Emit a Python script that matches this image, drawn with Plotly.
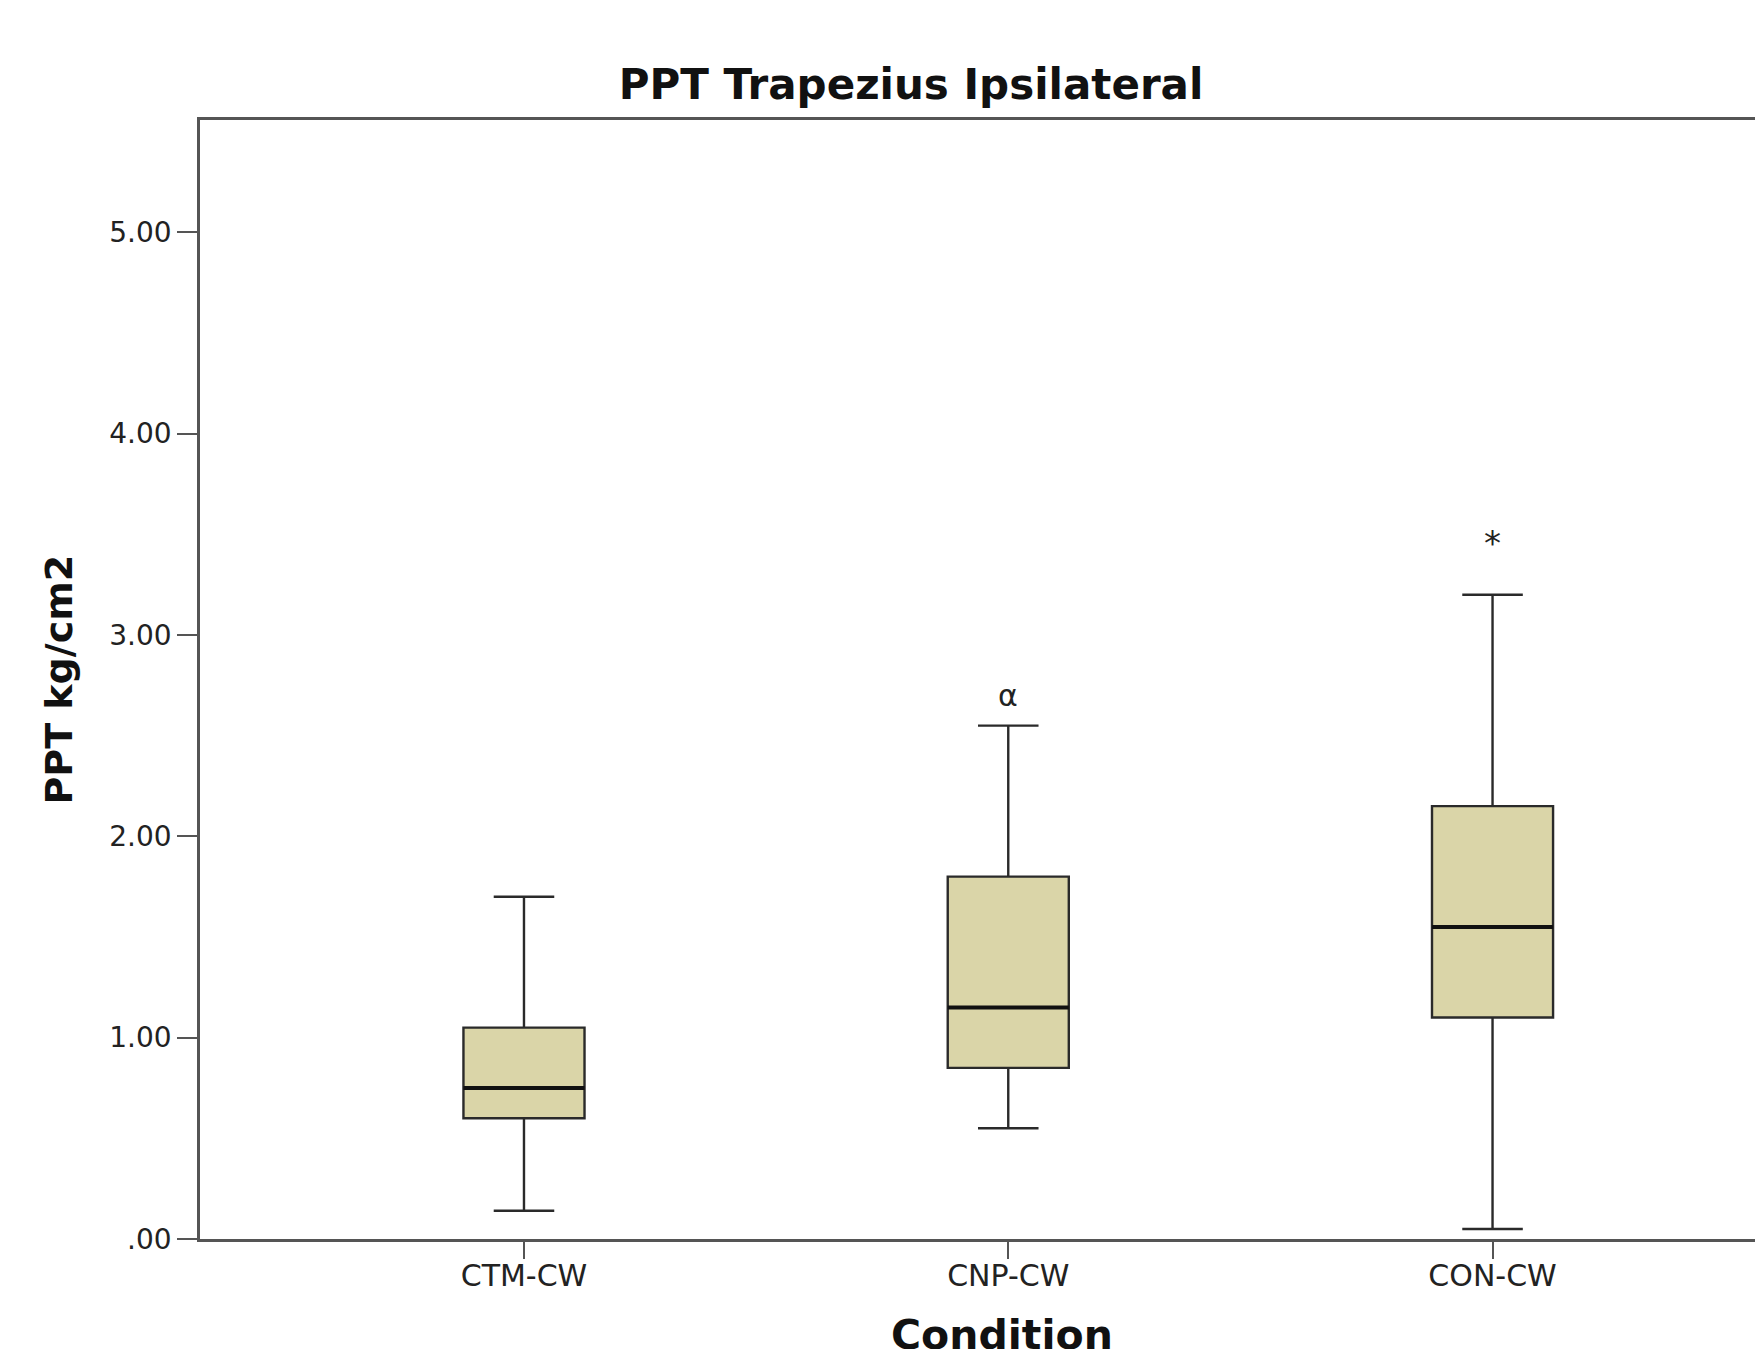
import plotly.graph_objects as go

categories = ["CTM-CW", "CNP-CW", "CON-CW"]
lower_whisker = [0.14, 0.55, 0.05]
q1_vals = [0.60, 0.85, 1.10]
median_vals = [0.75, 1.15, 1.55]
q3_vals = [1.05, 1.80, 2.15]
upper_whisker = [1.70, 2.55, 3.20]
markers = ["", "α", "*"]
marker_y = [None, 2.70, 3.455]
y_ticks = [0, 1, 2, 3, 4, 5]
y_tick_labels = [".00", "1.00", "2.00", "3.00", "4.00", "5.00"]

BOX_W = 0.25
FILL = "#DAD5A8"
LINE = "#2a2a2a"
AXIS = "#555555"

fig = go.Figure()
fig.add_trace(go.Box(
    x=categories,
    q1=q1_vals, median=median_vals, q3=q3_vals,
    lowerfence=lower_whisker, upperfence=upper_whisker,
    width=BOX_W, whiskerwidth=0.5,
    fillcolor=FILL, line=dict(color=LINE, width=2.4),
    boxpoints=False, showlegend=False, hoverinfo="skip",
))

# thicker median lines
for i, m in enumerate(median_vals):
    fig.add_shape(type="line", xref="x", yref="y",
                  x0=i - BOX_W / 2, x1=i + BOX_W / 2, y0=m, y1=m,
                  line=dict(color="#111111", width=4))

for i, (t, yv) in enumerate(zip(markers, marker_y)):
    if t:
        fig.add_annotation(x=categories[i], y=yv, text=t, showarrow=False,
                           font=dict(family="DejaVu Sans", size=30 if t == "α" else 34, color="#222"),
                           xanchor="center", yanchor="middle")

W, H = 1763, 1349
L, R, T, B = 192, 0, 112, 118
plot_h = H - T - B
plot_w = W - L - R
bottom = H - B

fig.add_annotation(xref="paper", yref="paper",
                   x=(50 - L) / plot_w, y=0.5, text="<b>PPT kg/cm2</b>",
                   textangle=-90, showarrow=False,
                   font=dict(family="DejaVu Sans", size=38, color="#111"),
                   xanchor="center", yanchor="middle")
fig.add_annotation(xref="paper", yref="paper",
                   x=(994 - L) / plot_w, y=(bottom - 1327) / plot_h,
                   text="<b>Condition</b>", showarrow=False,
                   font=dict(family="DejaVu Sans", size=41, color="#111"),
                   xanchor="center", yanchor="middle")

fig.update_layout(
    width=W, height=H,
    margin=dict(l=L, r=R, t=T, b=B, pad=0),
    paper_bgcolor="white", plot_bgcolor="white",
    title=dict(text="<b>PPT Trapezius Ipsilateral</b>", x=903 / W, xanchor="center",
               y=1 - 76 / H, yanchor="middle", yref="container",
               font=dict(family="DejaVu Sans", size=42, color="#111")),
    xaxis=dict(range=[-0.669, 2.575], showgrid=False, zeroline=False,
               showline=True, linecolor=AXIS, linewidth=2.5, mirror=True,
               ticks="outside", ticklen=17, tickwidth=2, tickcolor=AXIS,
               ticklabelstandoff=-9,
               tickfont=dict(family="DejaVu Sans", size=30, color="#222")),
    yaxis=dict(range=[0, 5.558], showgrid=False, zeroline=False,
               showline=True, linecolor=AXIS, linewidth=2.5, mirror=False,
               ticks="outside", ticklen=20, tickwidth=2, tickcolor=AXIS,
               tickvals=y_ticks, ticktext=y_tick_labels,
               tickfont=dict(family="DejaVu Sans", size=28, color="#222")),
)

fig.write_html("out.html")
